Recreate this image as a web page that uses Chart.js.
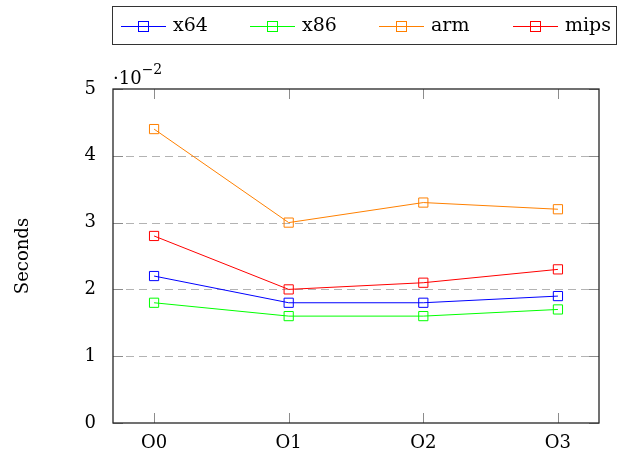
<!DOCTYPE html>
<html>
<head>
<meta charset="utf-8">
<script src="https://cdn.jsdelivr.net/npm/chart.js@4.4.1/dist/chart.umd.min.js"></script>
<style>
  html, body { margin: 0; padding: 0; background: #fff; }
  #wrap { position: relative; width: 622px; height: 450px; font-family: "DejaVu Serif", serif; color: #000; }
  #chart { position: absolute; left: 0; top: 0; }
  .legend { position: absolute; left: 112px; top: 6px; width: 505px; height: 39px; border: 1px solid #333; box-sizing: border-box; }
  .item { position: absolute; top: 0; height: 39px; }
  .item .ln { position: absolute; top: 19px; width: 45px; height: 1px; }
  .item .sq { position: absolute; top: 14px; left: 17px; width: 9px; height: 9px; border: 1px solid; }
  .item .tx { position: absolute; left: 52px; top: 6px; font-size: 19px; white-space: nowrap; }
  .expo { position: absolute; left: 113px; top: 61px; font-size: 18px; line-height: 22px; white-space: nowrap; }
  .expo sup { font-size: 14px; position: relative; top: -3px; }
</style>
</head>
<body>
<div id="wrap">
  <canvas id="chart" width="622" height="450"></canvas>
  <div class="legend" id="legend"></div>
  <div class="expo">·10<sup>−2</sup></div>
</div>
<script>
// Données du graphique
const categories = ["O0", "O1", "O2", "O3"];
const yTicks = [0, 1, 2, 3, 4, 5];
const x64 = [2.2, 1.8, 1.8, 1.9];
const x86 = [1.8, 1.6, 1.6, 1.7];
const arm = [4.4, 3.0, 3.3, 3.2];
const mips = [2.8, 2.0, 2.1, 2.3];

const seriesNames = ["x64", "x86", "arm", "mips"];
const seriesValues = [x64, x86, arm, mips];
const seriesColors = ["#0000ff", "#00ff00", "#ff8000", "#ff0000"];

// Légende en HTML
const legendPos = [8, 137, 266, 400];
const legend = document.getElementById("legend");
seriesNames.forEach((name, i) => {
  const item = document.createElement("div");
  item.className = "item";
  item.style.left = legendPos[i] + "px";
  item.innerHTML =
    '<div class="ln" style="background:' + seriesColors[i] + '"></div>' +
    '<div class="sq" style="border-color:' + seriesColors[i] + '"></div>' +
    '<div class="tx">' + name + "</div>";
  legend.appendChild(item);
});

// Cadre, graduations internes et grille pointillée
const framePlugin = {
  id: "frame",
  beforeDatasetsDraw(chart) {
    const { ctx, chartArea: a, scales } = chart;
    ctx.save();
    ctx.lineWidth = 1;
    ctx.strokeStyle = "#b3b3b3";
    ctx.setLineDash([8, 5]);
    yTicks.forEach((v) => {
      if (v === 0 || v === 5) return;
      const y = Math.round(scales.y.getPixelForValue(v)) + 0.5;
      ctx.beginPath();
      ctx.moveTo(a.left, y);
      ctx.lineTo(a.right, y);
      ctx.stroke();
    });
    ctx.setLineDash([]);
    ctx.strokeStyle = "#8c8c8c";
    const tl = 10;
    categories.forEach((c, i) => {
      const x = Math.round(scales.x.getPixelForValue(i)) + 0.5;
      ctx.beginPath();
      ctx.moveTo(x, a.bottom);
      ctx.lineTo(x, a.bottom - tl);
      ctx.moveTo(x, a.top);
      ctx.lineTo(x, a.top + tl);
      ctx.stroke();
    });
    yTicks.forEach((v) => {
      const y = Math.round(scales.y.getPixelForValue(v)) + 0.5;
      ctx.beginPath();
      ctx.moveTo(a.left, y);
      ctx.lineTo(a.left + tl, y);
      ctx.moveTo(a.right, y);
      ctx.lineTo(a.right - tl, y);
      ctx.stroke();
    });
    ctx.restore();
  },
  afterDatasetsDraw(chart) {
    const { ctx, chartArea: a } = chart;
    ctx.save();
    ctx.strokeStyle = "#262626";
    ctx.lineWidth = 1.3;
    ctx.strokeRect(a.left, a.top, a.right - a.left, a.bottom - a.top);
    ctx.restore();
  },
};

const datasets = seriesNames.map((name, i) => ({
  label: name,
  data: seriesValues[i].map((v, j) => ({ x: j, y: v })),
  borderColor: seriesColors[i],
  backgroundColor: seriesColors[i],
  borderWidth: 1,
  pointStyle: "rect",
  pointRadius: 6.5,
  pointBorderWidth: 1,
  pointBackgroundColor: "rgba(0,0,0,0)",
  pointBorderColor: seriesColors[i],
  tension: 0,
}));

const font = { family: "DejaVu Serif", size: 18 };

new Chart(document.getElementById("chart"), {
  type: "line",
  data: { datasets },
  plugins: [framePlugin],
  options: {
    responsive: false,
    animation: false,
    events: [],
    layout: { padding: { left: 0, right: 23, top: 89, bottom: 0 } },
    plugins: { legend: { display: false }, tooltip: { enabled: false } },
    scales: {
      x: {
        type: "linear",
        min: -0.305,
        max: 3.305,
        grid: { display: false },
        border: { display: false },
        afterBuildTicks: (scale) => {
          scale.ticks = categories.map((c, i) => ({ value: i }));
        },
        afterFit: (scale) => { scale.height = 27; },
        ticks: {
          color: "#000",
          font,
          padding: 2,
          maxRotation: 0,
          autoSkip: false,
          callback: (v) => categories[v],
        },
      },
      y: {
        min: 0,
        max: 5,
        grid: { display: false },
        border: { display: false },
        afterBuildTicks: (scale) => {
          scale.ticks = yTicks.map((v) => ({ value: v }));
        },
        afterFit: (scale) => { scale.width = 113; },
        ticks: { color: "#000", font, padding: 9 },
        title: {
          display: true,
          text: "Seconds",
          color: "#000",
          font,
          padding: { top: 13, bottom: 0 },
        },
      },
    },
  },
});
</script>
</body>
</html>
